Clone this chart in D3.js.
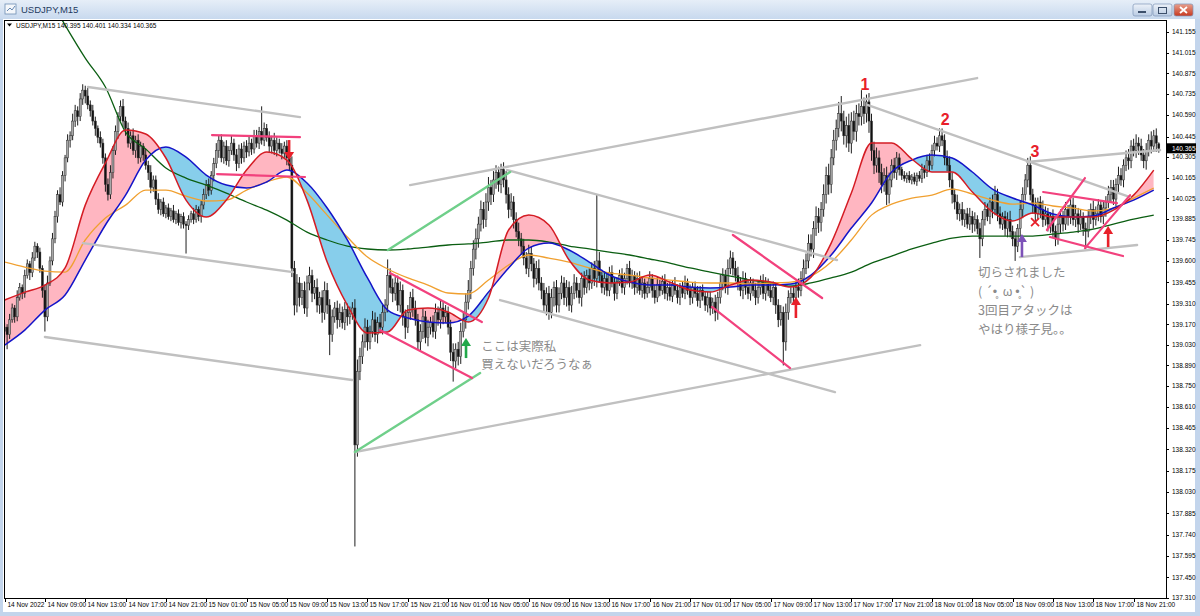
<!DOCTYPE html>
<html lang="ja">
<head>
<meta charset="utf-8">
<script src="https://d3js.org/d3.v7.min.js"></script>
<title>USDJPY,M15</title>
<style>
  body { margin: 0; background: #fff; }
  svg { display: block; }
  .ax { font-family: "Liberation Sans", Arial, sans-serif; font-size: 6.5px; fill: #000; }
  .note { font-family: "Noto Sans CJK JP", sans-serif; font-size: 12.5px; fill: #8a8a8a; }
</style>
</head>
<body>
<div id="chart"></div>
<script>
// ---- axis labels ----
var priceTicks = [141.155, 141.015, 140.875, 140.735, 140.590, 140.445, 140.305, 140.165, 140.025,
  139.885, 139.745, 139.600, 139.455, 139.310, 139.170, 139.030, 138.890, 138.750, 138.610,
  138.465, 138.320, 138.175, 138.030, 137.885, 137.740, 137.595, 137.450, 137.310];
var timeLabels = ["14 Nov 2022", "14 Nov 09:00", "14 Nov 13:00", "14 Nov 17:00", "14 Nov 21:00",
  "15 Nov 01:00", "15 Nov 05:00", "15 Nov 09:00", "15 Nov 13:00", "15 Nov 17:00", "15 Nov 21:00",
  "16 Nov 01:00", "16 Nov 05:00", "16 Nov 09:00", "16 Nov 13:00", "16 Nov 17:00", "16 Nov 21:00",
  "17 Nov 01:00", "17 Nov 05:00", "17 Nov 09:00", "17 Nov 13:00", "17 Nov 17:00", "17 Nov 21:00",
  "18 Nov 01:00", "18 Nov 05:00", "18 Nov 09:00", "18 Nov 13:00", "18 Nov 17:00", "18 Nov 21:00"];
var barsPerLabel = 16;
var lastQuote = {o: 140.395, h: 140.401, l: 140.334, c: 140.365};

// ---- M15 closes (bar 0 = 14 Nov 05:00) ----
var firstOpen = 139.12;
var closes = [
  139.15, 139.10, 139.20, 139.28, 139.22, 139.35, 139.42, 139.38, 139.50, 139.58, 139.52, 139.62, 139.70, 139.66, 139.55, 139.40, 139.22, 139.45,
  139.60, 139.75, 139.90, 140.05, 140.00, 140.18, 140.30, 140.42,
  140.45, 140.55, 140.62, 140.58, 140.70, 140.76, 140.72, 140.66, 140.62, 140.55,
  140.50, 140.44, 140.40, 140.30,
  140.12, 140.05, 140.20,
  140.35, 140.48, 140.58, 140.65, 140.55, 140.50,
  140.40, 140.45, 140.35, 140.42, 140.30, 140.38, 140.32, 140.25,
  140.20, 140.10, 140.15, 140.02, 139.95, 140.00,
  139.92, 139.96, 139.90, 139.94, 139.88, 139.92, 139.86, 139.90, 139.85,
  139.84,
  139.88, 139.92, 139.88, 139.95, 139.90, 139.98,
  140.05, 140.12, 140.08, 140.18, 140.26, 140.35,
  140.42, 140.30, 140.38, 140.28, 140.35, 140.40, 140.32, 140.26, 140.36, 140.30, 140.38, 140.34,
  140.40, 140.36, 140.45, 140.40, 140.48, 140.42, 140.50, 140.44,
  140.38, 140.42, 140.35, 140.40, 140.36, 140.33, 140.38, 140.30, 140.25,
  139.55,
  139.30, 139.45, 139.35,
  139.40, 139.28, 139.45, 139.50, 139.38, 139.42, 139.30,
  139.35, 139.25, 139.40, 139.30, 139.10,
  139.22, 139.28, 139.20, 139.25, 139.18, 139.27, 139.22, 139.24, 139.28,
  138.35,
  138.85, 138.95, 139.05, 139.15, 139.05, 139.12, 139.20, 139.10, 139.18, 139.15, 139.25, 139.30,
  139.50, 139.42, 139.38, 139.45, 139.30, 139.40, 139.22, 139.15, 139.25, 139.35, 139.28, 139.20,
  139.05, 139.12, 139.22, 139.08, 139.15, 139.18, 139.12, 139.25, 139.20, 139.28, 139.22, 139.25, 139.15,
  138.98, 138.92, 139.00, 138.95, 139.12, 139.20,
  139.32, 139.40, 139.55, 139.68, 139.75, 139.85, 139.95,
  139.88, 140.00, 140.10, 140.05, 140.15, 140.20, 140.12,
  140.22, 140.15, 140.05, 139.95, 140.00, 139.88, 139.80, 139.75,
  139.70, 139.62, 139.55, 139.65, 139.58, 139.48, 139.55, 139.45,
  139.40, 139.30, 139.38, 139.25, 139.35, 139.42, 139.30, 139.38,
  139.45, 139.35, 139.42, 139.30, 139.38, 139.45, 139.40, 139.35, 139.48,
  139.42, 139.50, 139.45, 139.55, 139.48, 139.60,
  139.50, 139.42, 139.48, 139.40, 139.52, 139.45, 139.38, 139.46, 139.50, 139.42, 139.48, 139.55, 139.45, 139.50, 139.42,
  139.48, 139.40, 139.45, 139.38, 139.42, 139.48, 139.40, 139.35, 139.44, 139.40, 139.46, 139.38, 139.42, 139.36, 139.44, 139.40, 139.35, 139.42, 139.38, 139.45,
  139.40, 139.35, 139.42, 139.38, 139.33, 139.40, 139.36, 139.30, 139.35, 139.28, 139.32, 139.25,
  139.35, 139.45, 139.50, 139.42, 139.55, 139.62, 139.55, 139.50, 139.45, 139.40,
  139.48, 139.42, 139.38, 139.45, 139.40, 139.35, 139.42, 139.46, 139.38, 139.45, 139.40, 139.35, 139.42,
  139.30, 139.20, 139.25, 139.05, 139.25, 139.35,
  139.38, 139.35, 139.42, 139.40, 139.48, 139.55,
  139.60, 139.72, 139.68, 139.82, 139.90, 139.86, 139.95,
  140.05, 140.18, 140.12, 140.30, 140.42, 140.50, 140.60,
  140.55,
  140.45, 140.52, 140.40, 140.55, 140.48, 140.60, 140.58,
  140.65,
  140.60, 140.68, 140.55,
  140.35, 140.25,
  140.30, 140.20, 140.12, 140.18, 140.05,
  140.15, 140.25, 140.20, 140.30, 140.22,
  140.18, 140.16, 140.18, 140.15, 140.17, 140.14, 140.18, 140.16,
  140.22, 140.20, 140.28, 140.25, 140.35,
  140.40, 140.38, 140.45, 140.42,
  140.30, 140.25, 140.15, 140.05,
  140.00, 139.92, 139.95, 139.88, 139.92, 139.85,
  139.90, 139.85, 139.88, 139.82, 139.75,
  139.88, 139.95, 139.90, 140.00, 139.95, 140.05, 139.92,
  139.85, 139.90, 139.82, 139.88, 139.80, 139.75, 139.70,
  139.82, 139.95, 140.05, 140.15, 140.25,
  140.05, 139.98, 139.92, 140.00,
  139.95, 139.88, 139.92, 139.85, 139.90, 139.80,
  139.75, 139.85, 139.90,
  139.85, 139.95, 139.90, 139.98, 139.88, 139.92, 139.85, 139.90, 139.82,
  139.80,
  139.90, 139.95, 139.88, 139.92, 139.98, 139.90, 139.96, 140.00,
  140.05, 140.10, 140.02, 140.12, 140.18,
  140.15, 140.25, 140.30, 140.28, 140.38,
  140.35, 140.40, 140.38, 140.32, 140.28,
  140.35, 140.42, 140.38, 140.45, 140.40, 140.365
];
// upper / lower wick length beyond the body, in 0.01 yen (rows of 20 bars)
var upWick = [
  3,2,4,3,2,5,3,2,4,3,2,4,3,2,3,2,4,5,3,4,
  4,3,5,3,2,4,3,5,4,3,4,4,3,6,3,4,3,2,4,3,
  3,4,5,3,4,3,4,5,3,4,3,5,3,4,3,2,4,3,5,3,
  3,4,2,3,2,3,2,4,2,3,2,3,2,3,2,4,3,2,3,4,
  3,4,3,4,5,3,4,3,4,3,5,3,4,3,4,3,4,5,3,4,
  4,3,17,4,3,4,3,5,4,3,4,3,4,5,6,5,6,4,5,6,
  5,6,4,5,6,4,5,6,5,4,5,4,5,6,4,5,4,5,4,6,
  8,6,5,6,5,4,6,5,4,6,5,4,11,5,6,4,5,6,4,5,
  5,4,6,5,4,5,6,4,5,4,5,6,4,5,4,5,4,5,6,4,
  5,6,5,6,7,5,6,7,5,6,5,6,7,5,6,5,4,4,5,6,
  5,6,4,5,6,4,5,4,6,5,4,5,6,4,5,4,5,6,4,5,
  4,5,4,5,4,5,6,4,5,4,5,4,5,4,5,45,6,4,5,4,
  4,5,4,3,4,5,4,3,5,4,3,4,5,4,3,4,5,3,4,5,
  3,4,5,3,4,3,5,4,3,4,5,3,4,3,4,5,3,4,3,4,
  4,3,5,4,6,5,4,6,5,4,5,6,4,5,4,5,4,3,5,4,
  4,5,4,3,5,4,3,4,5,4,6,5,4,5,4,6,5,6,5,6,
  6,5,7,6,5,7,6,8,6,7,6,8,12,7,6,8,6,7,6,7,
  11,6,5,6,5,6,7,5,6,5,6,5,4,5,4,3,2,3,2,3,
  2,3,2,3,4,3,4,5,4,5,4,5,5,4,5,6,5,4,5,4,
  5,3,4,6,4,5,3,4,6,5,4,3,5,6,4,5,3,4,5,6,
  4,5,3,6,5,4,5,6,4,5,3,4,6,5,4,3,5,4,6,5,
  4,5,3,4,5,6,4,5,3,4,5,4,6,5,4,3,5,4,6,5,
  5,4,6,5,4,5,6,4,5,6,4,5,4,5,4,6,4,5,1
];
var loWick = [
  4,10,3,2,4,3,2,4,3,2,5,3,2,4,3,5,10,3,2,3,
  3,4,2,3,4,3,5,3,4,6,3,4,5,3,4,3,5,4,3,4,
  5,4,3,4,3,5,3,4,5,3,4,3,5,4,3,4,3,5,4,3,
  4,3,4,2,3,2,3,2,3,2,4,3,19,3,2,3,2,3,4,3,
  3,4,3,4,3,5,3,4,3,4,3,4,5,3,4,3,4,3,4,3,
  3,4,3,4,3,4,5,3,4,3,4,3,5,4,6,7,5,6,5,4,
  6,5,6,4,5,6,7,5,6,14,5,4,6,5,4,5,6,5,4,69,
  8,6,5,4,6,5,4,5,6,4,5,6,5,4,6,5,4,5,6,8,
  4,5,6,4,5,6,5,4,6,5,4,5,4,6,5,4,5,6,14,5,
  6,5,4,6,5,6,5,7,6,5,6,5,6,7,5,6,5,6,5,6,
  6,5,6,4,5,6,5,4,6,5,6,4,5,6,5,7,5,4,6,5,
  5,4,5,6,4,5,4,5,4,6,5,4,5,4,5,6,5,4,5,4,
  4,3,5,4,3,4,5,4,3,4,5,4,3,5,4,3,4,5,4,3,
  4,3,4,5,3,4,3,4,5,3,4,3,5,4,3,4,5,3,4,5,
  5,4,6,5,4,5,4,5,4,5,4,5,4,6,5,4,5,4,5,4,
  5,4,5,4,3,5,6,5,4,16,6,5,4,5,6,5,4,5,4,5,
  5,6,5,7,6,5,6,7,6,5,7,6,7,6,8,6,7,6,7,6,
  6,7,6,8,7,6,5,7,6,5,7,6,5,4,5,4,3,2,3,2,
  3,2,3,2,3,4,3,4,3,4,3,4,4,5,4,5,6,5,4,5,
  4,5,3,4,6,5,4,13,5,4,3,5,6,4,5,3,4,5,6,4,
  5,10,4,5,6,4,5,4,6,5,4,6,5,4,5,6,4,5,4,6,
  5,4,6,5,4,5,6,4,5,12,4,5,6,4,5,4,5,6,4,5,
  4,5,6,4,5,4,6,5,4,5,6,4,5,6,4,5,4,6,3
];

// ---- moving averages, one value every 8 bars ----
var maStep = 8;
var maRed = [139.334,139.388,139.436,139.552,139.979,140.265,140.489,140.462,140.299,140.013,139.898,140.013,140.217,140.339,140.285,140.013,139.592,139.300,139.110,139.117,139.266,139.280,139.253,139.185,139.348,139.810,139.911,139.844,139.606,139.470,139.450,139.456,139.504,139.456,139.402,139.388,139.436,139.470,139.456,139.422,139.490,139.721,140.061,140.401,140.401,140.292,140.204,140.204,140.068,139.932,139.871,139.925,139.898,139.898,139.898,139.945,140.047,140.217];
var maBlue = [139.028,139.130,139.266,139.368,139.606,139.844,140.047,140.285,140.374,140.305,140.183,140.115,140.095,140.136,140.217,140.129,139.959,139.742,139.484,139.266,139.212,139.185,139.178,139.225,139.388,139.552,139.687,139.721,139.674,139.592,139.504,139.456,139.436,139.436,139.422,139.416,139.422,139.436,139.436,139.443,139.504,139.640,139.823,139.993,140.204,140.285,140.319,140.299,140.204,140.088,140.027,139.979,139.918,139.898,139.905,139.959,140.013,140.081];
var maOrange = [139.592,139.558,139.531,139.524,139.742,139.891,139.979,140.081,140.081,140.040,140.007,140.013,140.081,140.136,140.170,140.061,139.911,139.762,139.626,139.545,139.484,139.436,139.382,139.375,139.470,139.572,139.640,139.619,139.592,139.552,139.518,139.504,139.484,139.470,139.456,139.450,139.450,139.443,139.450,139.456,139.497,139.592,139.742,139.911,139.986,140.027,140.047,140.088,140.054,140.013,139.986,139.993,139.973,139.959,139.939,139.959,140.027,140.095];
var maGreen = [141.915,141.644,141.440,141.202,140.978,140.781,140.475,140.360,140.231,140.163,140.115,140.061,140.000,139.945,139.877,139.796,139.742,139.701,139.681,139.674,139.681,139.694,139.708,139.715,139.728,139.742,139.742,139.728,139.701,139.681,139.660,139.640,139.613,139.585,139.552,139.524,139.497,139.470,139.450,139.429,139.450,139.484,139.524,139.585,139.633,139.681,139.721,139.755,139.769,139.769,139.769,139.769,139.782,139.796,139.816,139.850,139.884,139.911];

// ---- hand drawn objects: [bar1, price1, bar2, price2] ----
var grayLines = [[33.1,140.781,117.2,140.577],[31.1,139.721,114.4,139.524],[16.0,139.083,137.9,138.791],
  [139.0,138.302,363.3,139.028],[160.9,140.115,385.9,140.842],[199.4,140.217,330.3,139.606],
  [196.6,139.334,329.5,138.709],[342.6,140.659,446.6,140.034],[405.7,140.272,458.5,140.353],
  [402.9,139.626,449.4,139.708]];
var greenLines = [[152.1,139.674,200.6,140.204],[139.0,138.302,188.7,138.838]];
var pinkLines = [[82.3,140.455,117.2,140.441],[84.3,140.190,119.2,140.170],[152.9,139.518,189.4,139.185],
  [148.9,139.130,185.5,138.804],[289.0,139.776,324.4,139.348],[280.7,139.287,311.7,138.872],
  [412.1,140.068,441.4,139.993],[414.8,139.762,443.8,139.633],[413.6,139.810,428.7,140.163],
  [428.7,139.687,446.6,140.047]];
// arrows: [bar, tail price, tip price, colour]
var arrows = [[112.9,140.421,140.285,"#e8202a"],[183.1,138.940,139.076,"#22a84a"],[314.0,139.212,139.355,"#e8202a"],
  [403.7,139.626,139.782,"#7d52b8"],[437.9,139.694,139.837,"#e8202a"]];
var crossMark = [408.9, 139.864];
var peakNumbers = [["1",341.4,140.761],["2",373.2,140.523],["3",408.9,140.306]];
var noteLeft = {bar: 189.1, lines: [["ここは実際私",138.988],["買えないだろうなぁ",138.865]]};
var noteRight = {bar: 386.3, lines: [["切らされました",139.490],["( ´•̥  ω •̥` )",139.361],["3回目アタックは",139.232],["やはり様子見。。",139.103]]};

// ---------------------------------------------------------------
var W = 1200, H = 616;
var plot = {left: 4, right: 1166, top: 20, bottom: 598};

var x = d3.scaleLinear().domain([0, 458]).range([4.6, 1158.8]);
var y = d3.scaleLinear().domain([137.310, 141.155]).range([598, 32]);

var svg = d3.select("#chart").append("svg").attr("width", W).attr("height", H);
var defs = svg.append("defs");

// window frame
svg.append("rect").attr("width", W).attr("height", H).attr("fill", "#c3d5ec");
var tg = defs.append("linearGradient").attr("id", "tbar").attr("x1", 0).attr("y1", 0).attr("x2", 0).attr("y2", 1);
tg.append("stop").attr("offset", "0%").attr("stop-color", "#e6eef8");
tg.append("stop").attr("offset", "100%").attr("stop-color", "#c8d9ee");
svg.append("rect").attr("width", W).attr("height", 19).attr("fill", "url(#tbar)");
svg.append("rect").attr("x", 5).attr("y", 4).attr("width", 11).attr("height", 10).attr("fill", "#f4f7fb").attr("stroke", "#6f8fb5").attr("stroke-width", 0.8);
svg.append("path").attr("d", "M7,11 L10,8 L12,10 L15,6").attr("fill", "none").attr("stroke", "#3f6aa0").attr("stroke-width", 0.8);
svg.append("text").attr("x", 21).attr("y", 13).text("USDJPY,M15")
  .style("font-family", "'Liberation Sans', Arial, sans-serif").style("font-size", "9.5px").style("fill", "#1e3a5f");

var bg = defs.append("linearGradient").attr("id", "btn").attr("x1", 0).attr("y1", 0).attr("x2", 0).attr("y2", 1);
bg.append("stop").attr("offset", "0%").attr("stop-color", "#edf2f9");
bg.append("stop").attr("offset", "100%").attr("stop-color", "#b9cbe3");
var rg = defs.append("linearGradient").attr("id", "btnx").attr("x1", 0).attr("y1", 0).attr("x2", 0).attr("y2", 1);
rg.append("stop").attr("offset", "0%").attr("stop-color", "#e8a08e");
rg.append("stop").attr("offset", "100%").attr("stop-color", "#c8391f");
[[1133, "url(#btn)"], [1153, "url(#btn)"], [1174, "url(#btnx)"]].forEach(function (b) {
  svg.append("rect").attr("x", b[0]).attr("y", 4).attr("width", 19).attr("height", 12).attr("rx", 2)
    .attr("fill", b[1]).attr("stroke", "#7f97b8").attr("stroke-width", 0.7);
});
svg.append("rect").attr("x", 1138).attr("y", 11).attr("width", 8).attr("height", 2).attr("fill", "#3c4f6b");
svg.append("rect").attr("x", 1158.5).attr("y", 7.5).attr("width", 8).attr("height", 6).attr("fill", "none").attr("stroke", "#3c4f6b").attr("stroke-width", 1);
svg.append("path").attr("d", "M1180,7 L1187,13 M1187,7 L1180,13").attr("stroke", "#fff").attr("stroke-width", 1.8);

// chart client area
svg.append("rect").attr("x", 3).attr("y", 19).attr("width", 1192).attr("height", 593).attr("fill", "#fff");
svg.append("rect").attr("x", plot.left + 0.5).attr("y", plot.top + 0.5)
  .attr("width", plot.right - plot.left).attr("height", plot.bottom - plot.top)
  .attr("fill", "none").attr("stroke", "#000").attr("stroke-width", 1);

defs.append("clipPath").attr("id", "plotclip").append("rect")
  .attr("x", plot.left + 1).attr("y", plot.top + 1).attr("width", plot.right - plot.left - 1).attr("height", plot.bottom - plot.top - 1);
var g = svg.append("g").attr("clip-path", "url(#plotclip)");

// ---- red / blue fill ----
var maIdx = d3.range(maRed.length);
var mx = function (k) { return x(k * maStep); };
var between = d3.area().curve(d3.curveMonotoneX).x(mx)
  .y0(function (k) { return y(maRed[k]); }).y1(function (k) { return y(maBlue[k]); });
defs.append("clipPath").attr("id", "aboveBlue").append("path")
  .attr("d", d3.area().curve(d3.curveMonotoneX).x(mx).y0(0).y1(function (k) { return y(maBlue[k]); })(maIdx));
defs.append("clipPath").attr("id", "belowBlue").append("path")
  .attr("d", d3.area().curve(d3.curveMonotoneX).x(mx).y0(H).y1(function (k) { return y(maBlue[k]); })(maIdx));
g.append("path").attr("d", between(maIdx)).attr("fill", "#ffb6c1").attr("clip-path", "url(#aboveBlue)");
g.append("path").attr("d", between(maIdx)).attr("fill", "#87ceeb").attr("clip-path", "url(#belowBlue)");

// ---- candles ----
var bars = closes.map(function (c, i) {
  var o = i === 0 ? firstOpen : closes[i - 1];
  if (i === closes.length - 1) o = lastQuote.o;
  return {i: i, o: o, c: c,
    h: Math.max(o, c) + upWick[i] / 100,
    l: Math.min(o, c) - loWick[i] / 100};
});
var cg = g.append("g");
cg.selectAll("line.wick").data(bars).enter().append("line").attr("class", "wick")
  .attr("x1", function (d) { return x(d.i); }).attr("x2", function (d) { return x(d.i); })
  .attr("y1", function (d) { return y(d.h); }).attr("y2", function (d) { return y(d.l); })
  .attr("stroke", "#1e1e1e").attr("stroke-width", 1);
cg.selectAll("rect.body").data(bars).enter().append("rect").attr("class", "body")
  .attr("x", function (d) { return x(d.i) - 1; }).attr("width", 2)
  .attr("y", function (d) { return y(Math.max(d.o, d.c)); })
  .attr("height", function (d) { return Math.max(0.8, Math.abs(y(d.o) - y(d.c))); })
  .attr("fill", function (d) { return d.c >= d.o ? "#a8a8a8" : "#111111"; })
  .attr("stroke", "#2a2a2a").attr("stroke-width", 0.5);

// ---- MA lines ----
function maLine(vals, col, w) {
  g.append("path").attr("d", d3.line().curve(d3.curveMonotoneX).x(mx).y(function (k) { return y(vals[k]); })(maIdx))
    .attr("fill", "none").attr("stroke", col).attr("stroke-width", w);
}
maLine(maGreen, "#0b5e12", 1.3);
maLine(maOrange, "#f0a030", 1.3);
maLine(maBlue, "#1414c8", 1.5);
maLine(maRed, "#d41c24", 1.5);

// ---- drawn objects ----
function seg(list, col, w) {
  g.selectAll(null).data(list).enter().append("line")
    .attr("x1", function (d) { return x(d[0]); }).attr("y1", function (d) { return y(d[1]); })
    .attr("x2", function (d) { return x(d[2]); }).attr("y2", function (d) { return y(d[3]); })
    .attr("stroke", col).attr("stroke-width", w).attr("stroke-linecap", "round");
}
seg(grayLines, "#c0c0c0", 2.4);
seg(greenLines, "#6fcf8a", 2.4);
seg(pinkLines, "#f2417d", 2.2);

arrows.forEach(function (a) {
  var ax = x(a[0]), yt = y(a[1]), yp = y(a[2]);
  var dir = yp > yt ? 1 : -1;
  g.append("line").attr("x1", ax).attr("x2", ax).attr("y1", yt).attr("y2", yp - dir * 7)
    .attr("stroke", a[3]).attr("stroke-width", 2.6);
  g.append("path").attr("d", "M" + (ax - 5) + "," + (yp - dir * 8) + " L" + (ax + 5) + "," + (yp - dir * 8) + " L" + ax + "," + yp + " Z")
    .attr("fill", a[3]);
});
var cx = x(crossMark[0]), cy = y(crossMark[1]);
g.append("path").attr("d", "M" + (cx - 4) + "," + (cy - 4) + " L" + (cx + 4) + "," + (cy + 4) + " M" + (cx + 4) + "," + (cy - 4) + " L" + (cx - 4) + "," + (cy + 4))
  .attr("stroke", "#e8202a").attr("stroke-width", 1.8);

g.selectAll("text.num").data(peakNumbers).enter().append("text").attr("class", "num")
  .attr("x", function (d) { return x(d[1]); }).attr("y", function (d) { return y(d[2]); })
  .attr("text-anchor", "middle").text(function (d) { return d[0]; })
  .style("font-family", "'Liberation Sans', Arial, sans-serif").style("font-weight", "bold")
  .style("font-size", "16px").style("fill", "#e8202a");

[noteLeft, noteRight].forEach(function (n) {
  g.selectAll(null).data(n.lines).enter().append("text").attr("class", "note")
    .attr("x", x(n.bar)).attr("y", function (d) { return y(d[1]); })
    .attr("xml:space", "preserve").style("white-space", "pre")
    .text(function (d) { return d[0]; });
});

// ---- price axis ----
var ya = svg.append("g");
priceTicks.forEach(function (p) {
  ya.append("line").attr("x1", plot.right).attr("x2", plot.right + 3).attr("y1", Math.round(y(p)) + 0.5).attr("y2", Math.round(y(p)) + 0.5)
    .attr("stroke", "#000").attr("stroke-width", 1);
  ya.append("text").attr("class", "ax").attr("x", plot.right + 6).attr("y", y(p) + 2.3).text(p.toFixed(3));
});
ya.append("rect").attr("x", plot.right + 1).attr("y", y(lastQuote.c) - 5).attr("width", 29).attr("height", 10).attr("fill", "#000");
ya.append("text").attr("class", "ax").attr("x", plot.right + 6).attr("y", y(lastQuote.c) + 2.3).style("fill", "#fff").text(lastQuote.c.toFixed(3));

// ---- time axis ----
var xa = svg.append("g");
timeLabels.forEach(function (t, k) {
  var tx = Math.round(x(k * barsPerLabel)) + 0.5;
  xa.append("line").attr("x1", tx).attr("x2", tx).attr("y1", plot.bottom).attr("y2", plot.bottom + 4).attr("stroke", "#000");
  xa.append("text").attr("class", "ax").attr("x", tx + 2).attr("y", plot.bottom + 9).text(t);
});

// ---- info line ----
svg.append("path").attr("d", "M7,23.5 L12,23.5 L9.5,26.5 Z").attr("fill", "#000");
svg.append("text").attr("class", "ax").attr("x", 16).attr("y", 27.5)
  .text("USDJPY,M15  " + [lastQuote.o, lastQuote.h, lastQuote.l, lastQuote.c].map(function (v) { return v.toFixed(3); }).join(" "));
</script>
</body>
</html>
